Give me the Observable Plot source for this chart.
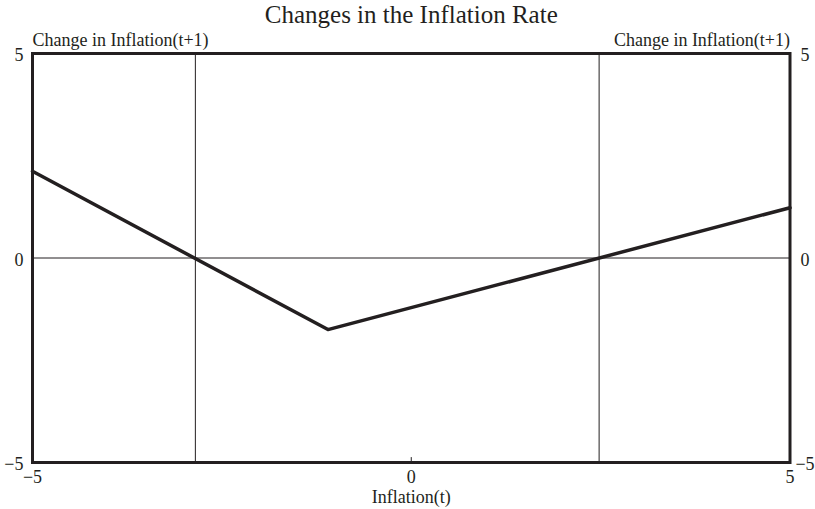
<!DOCTYPE html>
<html><head><meta charset="utf-8">
<script src="https://cdn.jsdelivr.net/npm/d3@7"></script>
<script src="https://cdn.jsdelivr.net/npm/@observablehq/plot@0.6"></script>
<style>body{margin:0;background:#fff;}</style>
</head><body><div id="chart"></div>
<script>
const title = "Changes in the Inflation Rate";
const yLabel = "Change in Inflation(t+1)";
const xLabel = "Inflation(t)";
const xTicks = [-5, 0, 5];
const yTicks = [-5, 0, 5];
const inflationT = [-5, -1.1, 5];
const changeT1 = [2.12, -1.75, 1.23];
const verticalRefs = [-2.85, 2.48];
const horizontalRefs = [0];

const curve = inflationT.map((x, i) => ({x, y: changeT1[i]}));
const font = "'Liberation Serif', 'DejaVu Serif', serif";
const ink = "#231f20";
const tickShape = {draw(ctx, l) { ctx.moveTo(0, 0); ctx.lineTo(0, -l); }};

const chart = Plot.plot({
  width: 815, height: 509,
  marginLeft: 32, marginRight: 25.5, marginTop: 53, marginBottom: 47,
  style: {fontFamily: font, fontSize: "18px", color: ink, background: "#fff"},
  x: {domain: [-5, 5]},
  y: {domain: [-5, 5]},
  marks: [
    Plot.ruleX(verticalRefs, {stroke: ink, strokeWidth: 1}),
    Plot.ruleY(horizontalRefs, {stroke: ink, strokeWidth: 1}),
    Plot.line(curve, {x: "x", y: "y", stroke: ink, strokeWidth: 3.5, strokeLinejoin: "round"}),
    Plot.axisY(yTicks, {anchor: "left", tickSize: 0, tickPadding: 9, fontSize: 18, label: null, dy: 2}),
    Plot.axisY(yTicks, {anchor: "right", tickSize: 0, tickPadding: 15, textAnchor: "middle", fontSize: 18, label: null, dy: 2}),
    Plot.axisX(xTicks, {anchor: "bottom", tickSize: 0, tickPadding: 8, fontSize: 18, label: null}),
    Plot.vector(xTicks, {x: d => d, frameAnchor: "bottom", length: 5, anchor: "start", rotate: 0, shape: tickShape, stroke: ink, strokeWidth: 1}),
    Plot.frame({stroke: ink, strokeWidth: 3}),
    Plot.text([title], {text: d => d, frameAnchor: "top", lineAnchor: "middle", dy: -39, fontSize: 25}),
    Plot.text([yLabel], {text: d => d, frameAnchor: "top-left", textAnchor: "start", lineAnchor: "middle", dy: -13, fontSize: 18}),
    Plot.text([yLabel], {text: d => d, frameAnchor: "top-right", textAnchor: "end", lineAnchor: "middle", dy: -13, fontSize: 18}),
    Plot.text([xLabel], {text: d => d, frameAnchor: "bottom", lineAnchor: "middle", dy: 35, fontSize: 18})
  ]
});
document.getElementById("chart").append(chart);
</script>
</body></html>
